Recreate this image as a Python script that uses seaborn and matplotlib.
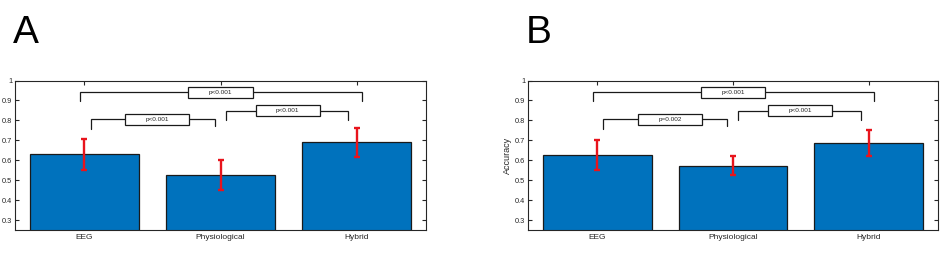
import matplotlib
matplotlib.use("Agg")
import matplotlib.pyplot as plt
import seaborn as sns
import pandas as pd
from matplotlib.patches import Rectangle

sns.set_theme(style="white")
plt.rcParams['font.family'] = ['Liberation Sans', 'DejaVu Sans']

categories = ["EEG", "Physiological", "Hybrid"]

acc_a = [0.629, 0.526, 0.690]
err_lo_a = [0.553, 0.452, 0.617]
err_hi_a = [0.705, 0.600, 0.760]
p_a = ["p<0.001", "p<0.001", "p<0.001"]

acc_b = [0.624, 0.570, 0.688]
err_lo_b = [0.550, 0.526, 0.620]
err_hi_b = [0.700, 0.619, 0.750]
p_b = ["p<0.001", "p=0.002", "p<0.001"]

yticks = [0.3, 0.4, 0.5, 0.6, 0.7, 0.8, 0.9, 1.0]
ytick_labels = ["0.3", "0.4", "0.5", "0.6", "0.7", "0.8", "0.9", "1"]

BAR = "#0072BD"
AX = "#262626"

fig = plt.figure(figsize=(9.42, 2.56), dpi=100)
W, H = 942, 256


def px_axes(l, r, t, b):
    return fig.add_axes([l / W, 1 - b / H, (r - l) / W, (b - t) / H])


# bracket geometry: (x_left, x_right, y_line, y_left_end, y_right_end, box_x)
brackets = [
    (-0.03, 2.04, 0.941, 0.899, 0.899, 1.00),
    (0.045, 0.956, 0.805, 0.756, 0.770, 0.535),
    (1.04, 1.94, 0.849, 0.803, 0.803, 1.495),
]


def panel(ax, vals, lo, hi, plabels, letter, ylabel=None):
    df = pd.DataFrame({"cat": categories, "acc": vals})
    sns.barplot(data=df, x="cat", y="acc", ax=ax, color=BAR, saturation=1,
                width=0.8, edgecolor="#1a1a1a", linewidth=0.9, errorbar=None)
    xs = list(range(len(categories)))
    yerr = [[v - l for v, l in zip(vals, lo)], [h - v for v, h in zip(vals, hi)]]
    ax.errorbar(xs, vals, yerr=yerr, fmt="none", ecolor="#e8141c",
                elinewidth=1.7, capsize=2.3, capthick=1.7, zorder=5)
    ax.set_xlim(-0.51, 2.51)
    ax.set_ylim(0.25, 1.0)
    ax.set_yticks(yticks)
    ax.set_yticklabels(ytick_labels)
    ax.set_xlabel("")
    ax.set_ylabel(ylabel if ylabel else "", fontsize=6.5, color=AX, labelpad=2)
    ax.tick_params(axis="both", which="both", direction="in", length=3,
                   width=0.8, colors=AX, labelsize=6, top=True, right=True,
                   left=True, bottom=True, pad=3)
    ax.tick_params(axis="y", labelsize=5.3, pad=2)
    for s in ax.spines.values():
        s.set_visible(True)
        s.set_color(AX)
        s.set_linewidth(0.8)
    for (xl, xr, yl, yle, yre, bx), lab in zip(brackets, plabels):
        ax.plot([xl, xl, xr, xr], [yle, yl, yl, yre], color="#1a1a1a", lw=0.9,
                zorder=6, solid_joinstyle="miter")
        bw, bh = 0.474, 0.056
        ax.add_patch(Rectangle((bx - bw / 2, yl - bh / 2), bw, bh,
                               facecolor="white", edgecolor="#1a1a1a", lw=0.9,
                               zorder=7))
        ax.text(bx, yl, lab, ha="center", va="center", fontsize=4.6,
                color=AX, zorder=8)
    ax.text(-0.006, 1.25, letter, transform=ax.transAxes, fontsize=28,
            color="black", ha="left", va="baseline")


ax_a = px_axes(15, 426, 80.5, 230)
ax_b = px_axes(528, 938, 80.5, 230)
panel(ax_a, acc_a, err_lo_a, err_hi_a, p_a, "A")
panel(ax_b, acc_b, err_lo_b, err_hi_b, p_b, "B", ylabel="Accuracy")

fig.savefig("out.png", dpi=100)
